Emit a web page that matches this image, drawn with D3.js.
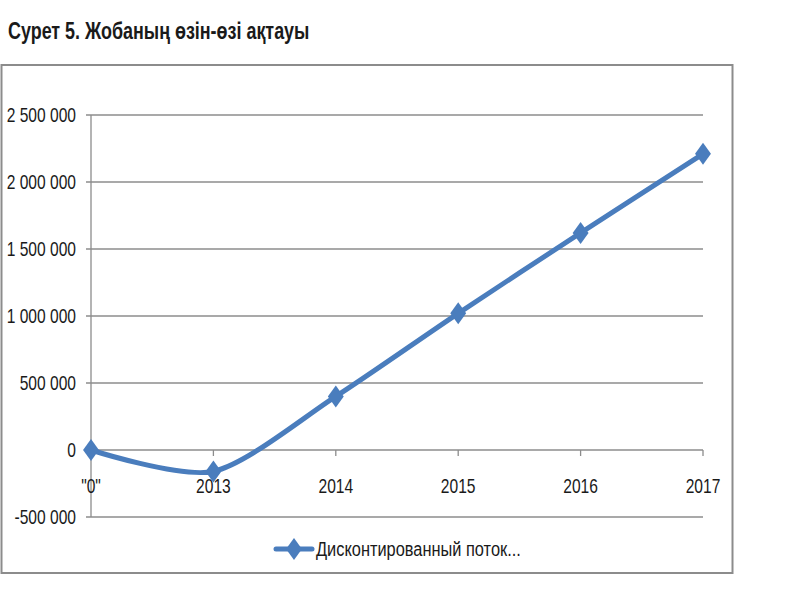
<!DOCTYPE html>
<html>
<head>
<meta charset="utf-8">
<script src="https://cdn.jsdelivr.net/npm/d3@7"></script>
<style>
  body { margin: 0; background: #fff; }
  svg text { font-family: "Liberation Sans", Arial, sans-serif; fill: #1a1a1a; }
</style>
</head>
<body>
<div id="chart"></div>
<script>
// chart values
var categories = ['"0"', '2013', '2014', '2015', '2016', '2017'];
var flowValues = [0, -160000, 400000, 1020000, 1620000, 2210000];
var yTicks = [-500000, 0, 500000, 1000000, 1500000, 2000000, 2500000];
var seriesName = 'Дисконтированный поток...';
var title = 'Сурет 5. Жобаның өзін-өзі ақтауы';

var W = 793, H = 600;
var margin = { left: 91, right: 90, top: 115, bottom: 83 };
var lineColor = '#4a7dbd';
var narrow = 0.78; // squeeze Liberation Sans to look like Arial Narrow

var svg = d3.select('#chart')
  .append('svg')
  .attr('width', W)
  .attr('height', H);

function place(x0, y0) {
  return 'translate(' + x0 + ',' + y0 + ') scale(' + narrow + ',1)';
}

svg.append('text')
  .attr('transform', place(8, 39))
  .style('font-size', '23px')
  .style('font-weight', 'bold')
  .text(title);

// outer frame
svg.append('rect')
  .attr('x', 1.5)
  .attr('y', 65)
  .attr('width', 731)
  .attr('height', 508)
  .attr('fill', 'none')
  .attr('stroke', '#8c8c8c')
  .attr('stroke-width', 2);

var x = d3.scalePoint()
  .domain(categories)
  .range([margin.left, W - margin.right]);

var y = d3.scaleLinear()
  .domain([-500000, 2500000])
  .range([517, 115]);

var fmt = function (v) {
  return d3.format(',')(v).replace(/,/g, ' ').replace('−', '-');
};

var g = svg.append('g');

// gridlines
g.selectAll('.grid')
  .data(yTicks)
  .enter().append('line')
  .attr('class', 'grid')
  .attr('x1', margin.left - 5)
  .attr('x2', W - margin.right)
  .attr('y1', function (d) { return y(d); })
  .attr('y2', function (d) { return y(d); })
  .attr('stroke', '#8c8c8c')
  .attr('stroke-width', 1.3);

// y axis line
g.append('line')
  .attr('x1', margin.left).attr('x2', margin.left)
  .attr('y1', y(2500000)).attr('y2', y(-500000))
  .attr('stroke', '#8c8c8c')
  .attr('stroke-width', 1.3);

g.selectAll('.ylab')
  .data(yTicks)
  .enter().append('text')
  .attr('class', 'ylab')
  .attr('transform', function (d) { return place(76, y(d)); })
  .attr('dy', '0.35em')
  .attr('text-anchor', 'end')
  .style('font-size', '20px')
  .text(fmt);

// x tick marks on the zero line
g.selectAll('.xtick')
  .data(categories)
  .enter().append('line')
  .attr('class', 'xtick')
  .attr('x1', function (d) { return x(d); })
  .attr('x2', function (d) { return x(d); })
  .attr('y1', y(0))
  .attr('y2', y(0) + 6)
  .attr('stroke', '#8c8c8c')
  .attr('stroke-width', 1.3);

g.selectAll('.xlab')
  .data(categories)
  .enter().append('text')
  .attr('class', 'xlab')
  .attr('transform', function (d) { return place(x(d), y(0) + 43); })
  .attr('text-anchor', 'middle')
  .style('font-size', '20px')
  .text(function (d) { return d; });

var pts = categories.map(function (c, i) { return { key: c, value: flowValues[i] }; });

var line = d3.line()
  .x(function (d) { return x(d.key); })
  .y(function (d) { return y(d.value); })
  .curve(d3.curveCardinal.tension(0.2));

g.append('path')
  .datum(pts)
  .attr('d', line)
  .attr('fill', 'none')
  .attr('stroke', lineColor)
  .attr('stroke-width', 5)
  .attr('stroke-linecap', 'round');

var diamond = d3.symbol().type(d3.symbolDiamond).size(140);

g.selectAll('.mark')
  .data(pts)
  .enter().append('path')
  .attr('class', 'mark')
  .attr('d', diamond)
  .attr('transform', function (d) { return 'translate(' + x(d.key) + ',' + y(d.value) + ') scale(1.25,1)'; })
  .attr('fill', lineColor);

// legend
var lg = svg.append('g').attr('transform', 'translate(276,549)');
lg.append('line')
  .attr('x1', 0).attr('x2', 36)
  .attr('stroke', lineColor)
  .attr('stroke-width', 5)
  .attr('stroke-linecap', 'round');
lg.append('path')
  .attr('d', diamond)
  .attr('transform', 'translate(18,0) scale(1.25,1)')
  .attr('fill', lineColor);
lg.append('text')
  .attr('transform', place(40, 0))
  .attr('dy', '0.35em')
  .style('font-size', '21px')
  .text(seriesName);
</script>
</body>
</html>
